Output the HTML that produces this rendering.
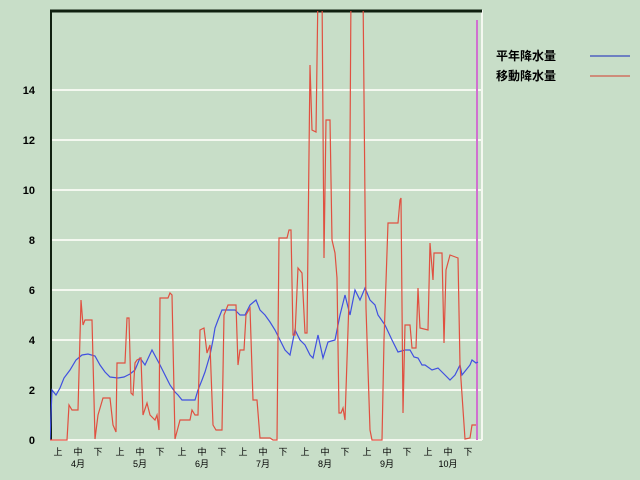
<!DOCTYPE html><html><head><meta charset="utf-8"><style>html,body{margin:0;padding:0;background:#c8dec8;}svg{display:block}text{font-family:"Liberation Sans","Noto Sans CJK JP",sans-serif;}</style></head><body>
<svg width="640" height="480" viewBox="0 0 640 480">
<rect width="640" height="480" fill="#c8dec8"/>
<defs><clipPath id="c"><rect x="50" y="11" width="432" height="430"/></clipPath></defs>
<g stroke="#f4f8f0" stroke-width="2">
<line x1="50" y1="440" x2="482" y2="440"/><line x1="50" y1="390" x2="482" y2="390"/><line x1="50" y1="340" x2="482" y2="340"/><line x1="50" y1="290" x2="482" y2="290"/><line x1="50" y1="240" x2="482" y2="240"/><line x1="50" y1="190" x2="482" y2="190"/><line x1="50" y1="140" x2="482" y2="140"/><line x1="50" y1="90" x2="482" y2="90"/>
<line x1="482" y1="10" x2="482" y2="440"/>
</g>
<line x1="50" y1="11" x2="482" y2="11" stroke="#102010" stroke-width="3"/>
<line x1="51" y1="10" x2="51" y2="440" stroke="#102010" stroke-width="2"/>
<line x1="477" y1="20" x2="477" y2="440" stroke="#d070d0" stroke-width="2"/>
<g font-size="11" font-weight="bold" fill="#000" text-anchor="end">
<text x="35" y="444">0</text><text x="35" y="394">2</text><text x="35" y="344">4</text><text x="35" y="294">6</text><text x="35" y="244">8</text><text x="35" y="194">10</text><text x="35" y="144">12</text><text x="35" y="94">14</text>
</g>
<g font-size="9" fill="#000" text-anchor="middle">
<text x="58" y="455">上</text><text x="78" y="455">中</text><text x="98" y="455">下</text>
<text x="120" y="455">上</text><text x="140" y="455">中</text><text x="160" y="455">下</text>
<text x="182" y="455">上</text><text x="202" y="455">中</text><text x="222" y="455">下</text>
<text x="243" y="455">上</text><text x="263" y="455">中</text><text x="283" y="455">下</text>
<text x="305" y="455">上</text><text x="325" y="455">中</text><text x="345" y="455">下</text>
<text x="367" y="455">上</text><text x="387" y="455">中</text><text x="407" y="455">下</text>
<text x="428" y="455">上</text><text x="448" y="455">中</text><text x="468" y="455">下</text>
<text x="78" y="467">4月</text><text x="140" y="467">5月</text><text x="202" y="467">6月</text><text x="263" y="467">7月</text><text x="325" y="467">8月</text><text x="387" y="467">9月</text><text x="448" y="467">10月</text>
</g>
<g clip-path="url(#c)" fill="none" stroke-width="1.2">
<polyline stroke="#4050e0" points="50,440 52,390 56,395 60,388 64,378 70,370 76,360 82,355 88,354 95,356 100,365 105,372 110,377 118,378 124,377 130,374 135,370 140,358 145,365 152,350 160,365 165,375 170,385 175,392 178,395 182,400 190,400 195,400 198,390 202,380 205,372 210,355 213,340 215,328 218,320 222,310 230,310 235,310 240,315 245,315 250,305 256,300 260,310 265,315 270,322 275,330 280,340 285,350 290,355 295,330 300,340 305,345 310,355 313,358 318,335 323,358 328,342 335,340 340,315 345,295 350,315 355,290 360,300 365,288 370,300 375,305 378,315 385,325 392,340 398,352 405,350 410,350 414,357 418,358 422,365 425,365 432,370 438,368 442,372 445,375 450,380 455,375 460,365 462,375 466,370 470,365 472,360 476,363 478,362"/>
<polyline stroke="#e05040" points="50,440 67,440 69,405 72,410 78,410 81,300 83,325 85,320 92,320 95,439 98,415 103,398 110,398 113,425 116,432 117,363 125,363 127,318 129,318 131,393 133,395 135,363 137,360 141,358 143,415 147,403 150,415 155,420 157,415 159,430 160,298 168,298 170,293 172,295 175,439 180,420 190,420 192,410 195,415 198,415 200,330 204,328 207,353 210,345 213,425 216,430 222,430 224,315 228,305 236,305 238,365 240,350 244,350 246,315 250,308 253,400 257,400 260,438 270,438 273,440 277,440 279,238 287,238 289,230 291,230 293,335 295,335 298,268 302,273 305,333 307,333 310,65 312,130 316,132 318,-10 322,-10 324,258 326,120 330,120 332,240 335,253 337,278 339,413 341,413 343,408 345,420 349,300 351,-10 363,-10 366,308 370,430 372,440 382,440 384,340 388,223 398,223 400,200 401,198 403,413 405,325 410,325 412,348 416,348 418,288 420,328 428,330 430,243 433,280 434,253 442,253 444,343 446,270 450,255 458,258 460,365 465,439 470,438 472,425 476,425"/>
</g>
<g font-size="12" font-weight="bold" fill="#000">
<text x="496" y="60">平年降水量</text><text x="496" y="80">移動降水量</text>
</g>
<line x1="590" y1="56" x2="630" y2="56" stroke="#5060c0" stroke-width="1.5"/>
<line x1="590" y1="76" x2="630" y2="76" stroke="#d07060" stroke-width="1.5"/>
</svg></body></html>
